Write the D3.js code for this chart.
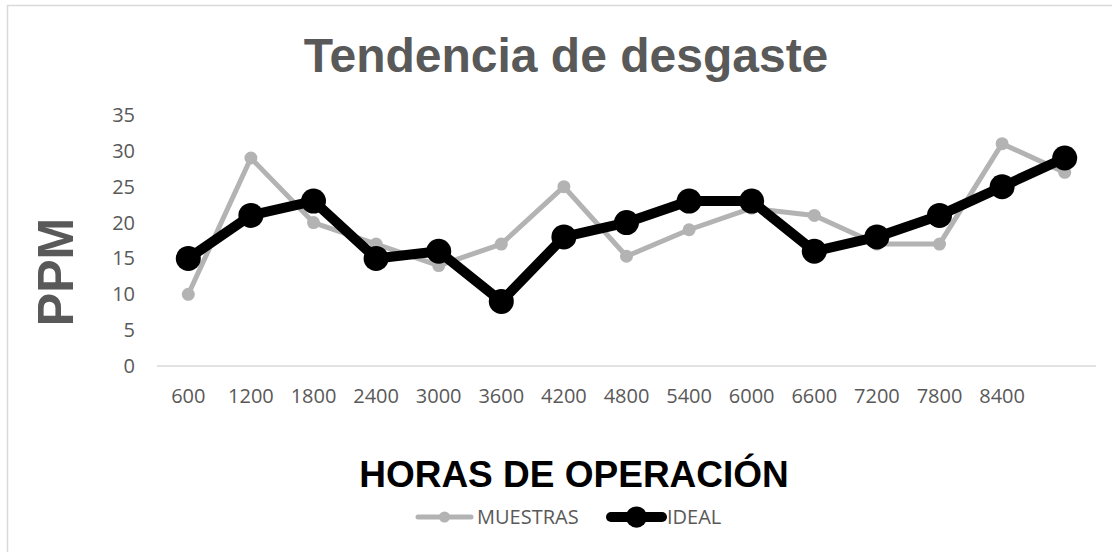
<!DOCTYPE html>
<html>
<head>
<meta charset="utf-8">
<script src="https://cdn.jsdelivr.net/npm/d3@7"></script>
<style>
  body { margin: 0; background: #fff; }
  svg { display: block; }
</style>
</head>
<body>
<div id="chart"></div>
<script>
'use strict';

var categories = ['600', '1200', '1800', '2400', '3000', '3600', '4200', '4800', '5400', '6000', '6600', '7200', '7800', '8400', ''];
var muestras = [10, 29, 20, 17, 14, 17, 25, 15.3, 19, 22, 21, 17, 17, 31, 27];
var ideal = [15, 21, 23, 15, 16, 9, 18, 20, 23, 23, 16, 18, 21, 25, 29];
var yTicks = [0, 5, 10, 15, 20, 25, 30, 35];

var width = 1112, height = 552;
var margin = {top: 115, right: 16, bottom: 186, left: 157};

var svg = d3.select('#chart').append('svg')
    .attr('width', width)
    .attr('height', height);

// chart border
svg.append('rect')
  .attr('x', 7.5).attr('y', 5.5)
  .attr('width', width).attr('height', height)
  .attr('fill', 'none')
  .attr('stroke', '#d9d9d9')
  .attr('stroke-width', 1.5);

var x = d3.scaleBand()
  .domain(d3.range(categories.length))
  .range([margin.left, width - margin.right]);

var y = d3.scaleLinear()
  .domain([0, 35])
  .range([height - margin.bottom, margin.top]);

// title
svg.append('text')
  .attr('x', 566).attr('y', 72)
  .attr('text-anchor', 'middle')
  .attr('font-family', 'Liberation Sans, Arial, sans-serif')
  .attr('font-weight', 'bold')
  .attr('font-size', 48)
  .attr('fill', '#595959')
  .text('Tendencia de desgaste');

// y axis labels
svg.append('g')
  .selectAll('text')
  .data(yTicks)
  .enter()
  .append('text')
  .attr('x', 135)
  .attr('y', function(d) { return y(d) + 7; })
  .attr('text-anchor', 'end')
  .attr('font-family', 'Open Sans, sans-serif')
  .attr('font-size', 20)
  .attr('fill', '#595959')
  .text(function(d) { return d; });

// baseline
svg.append('line')
  .attr('x1', x.range()[0]).attr('x2', x.range()[1])
  .attr('y1', y(0)).attr('y2', y(0))
  .attr('stroke', '#d9d9d9')
  .attr('stroke-width', 1.5);

// x axis labels
svg.append('g')
  .selectAll('text')
  .data(categories)
  .enter()
  .append('text')
  .attr('x', function(d, i) { return x(i) + x.bandwidth() / 2; })
  .attr('y', 403)
  .attr('text-anchor', 'middle')
  .attr('font-family', 'Open Sans, sans-serif')
  .attr('font-size', 20)
  .attr('fill', '#595959')
  .text(function(d) { return d; });

// axis titles
svg.append('text')
  .attr('transform', 'translate(73,272) rotate(-90)')
  .attr('text-anchor', 'middle')
  .attr('font-family', 'Liberation Sans, Arial, sans-serif')
  .attr('font-weight', 'bold')
  .attr('font-size', 50)
  .attr('fill', '#595959')
  .text('PPM');

svg.append('text')
  .attr('x', 574).attr('y', 487)
  .attr('text-anchor', 'middle')
  .attr('font-family', 'Liberation Sans, Arial, sans-serif')
  .attr('font-weight', 'bold')
  .attr('font-size', 37)
  .attr('fill', '#000')
  .text('HORAS DE OPERACIÓN');

var line = d3.line()
  .x(function(d, i) { return x(i) + x.bandwidth() / 2; })
  .y(function(d) { return y(d); });

var series = [
  {name: 'MUESTRAS', values: muestras, color: '#b3b3b3', lw: 5, r: 6.5},
  {name: 'IDEAL', values: ideal, color: '#000000', lw: 10, r: 12.5}
];

series.forEach(function(s) {
  var g = svg.append('g');
  g.append('path')
    .datum(s.values)
    .attr('d', line)
    .attr('fill', 'none')
    .attr('stroke', s.color)
    .attr('stroke-width', s.lw)
    .attr('stroke-linejoin', 'round');
  g.selectAll('circle')
    .data(s.values)
    .enter()
    .append('circle')
    .attr('cx', function(d, i) { return x(i) + x.bandwidth() / 2; })
    .attr('cy', function(d) { return y(d); })
    .attr('r', s.r)
    .attr('fill', s.color);
});

// legend
var legend = [
  {x1: 418, x2: 471, tx: 477, s: series[0]},
  {x1: 611, x2: 662, tx: 667, s: series[1]}
];
var lg = svg.append('g');
legend.forEach(function(l) {
  lg.append('line')
    .attr('x1', l.x1).attr('x2', l.x2)
    .attr('y1', 517).attr('y2', 517)
    .attr('stroke', l.s.color)
    .attr('stroke-width', l.s.lw)
    .attr('stroke-linecap', 'round');
  lg.append('circle')
    .attr('cx', (l.x1 + l.x2) / 2).attr('cy', 517)
    .attr('r', l.s.r * 0.85)
    .attr('fill', l.s.color);
  lg.append('text')
    .attr('x', l.tx).attr('y', 524)
    .attr('font-family', 'Open Sans, sans-serif')
    .attr('font-size', 20)
    .attr('fill', '#595959')
    .text(l.s.name);
});
</script>
</body>
</html>
